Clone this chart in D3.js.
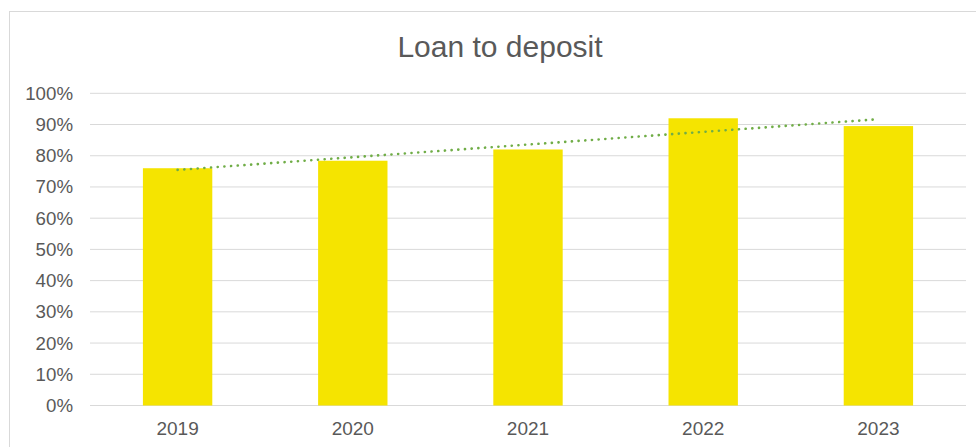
<!DOCTYPE html>
<html>
<head>
<meta charset="utf-8">
<script src="https://cdn.jsdelivr.net/npm/d3@7"></script>
<style>
  html, body { margin: 0; padding: 0; background: #fff; }
  svg { display: block; }
</style>
</head>
<body>
<div id="chart"></div>
<script>
const title = "Loan to deposit";
const categories = ["2019", "2020", "2021", "2022", "2023"];
const values = [0.76, 0.784, 0.82, 0.92, 0.895];
const yTicks = [0, 0.1, 0.2, 0.3, 0.4, 0.5, 0.6, 0.7, 0.8, 0.9, 1.0];

const W = 976, H = 447;
const margin = { left: 90, right: 10, top: 93.3, bottom: 41.5 };
const font = "'Liberation Sans', Arial, sans-serif";
const textColor = "#595959";

const svg = d3.select("#chart").append("svg").attr("width", W).attr("height", H);

// frame
svg.append("rect").attr("x", 9.5).attr("y", 11.5).attr("width", W + 10).attr("height", H + 10)
  .attr("fill", "#fff").attr("stroke", "#d9d9d9").attr("stroke-width", 1);

const x = d3.scaleBand().domain(categories).range([margin.left, W - margin.right]).paddingInner(0.604).paddingOuter(0.302);
const y = d3.scaleLinear().domain([0, 1]).range([H - margin.bottom, margin.top]);

// gridlines
svg.append("g").selectAll("line").data(yTicks).join("line")
  .attr("x1", margin.left).attr("x2", W - margin.right)
  .attr("y1", d => y(d)).attr("y2", d => y(d))
  .attr("stroke", "#d9d9d9").attr("stroke-width", 1);

// y axis labels
const yAxis = d3.axisLeft(y).tickValues(yTicks).tickFormat(d3.format(".0%")).tickSize(0).tickPadding(0);
const gy = svg.append("g").attr("transform", `translate(${73},0)`).call(yAxis);
gy.select(".domain").remove();
gy.selectAll("text").attr("fill", textColor).style("font-family", font).style("font-size", "18.7px");

// bars
svg.append("g").selectAll("rect").data(values).join("rect")
  .attr("x", (d, i) => x(categories[i]))
  .attr("width", x.bandwidth())
  .attr("y", d => y(d))
  .attr("height", d => y(0) - y(d))
  .attr("fill", "#F5E400");

// x axis labels
const xAxis = d3.axisBottom(x).tickSize(0).tickPadding(0);
const gx = svg.append("g").attr("transform", `translate(0,${y(0) + 16})`).call(xAxis);
gx.select(".domain").remove();
gx.selectAll("text").attr("fill", textColor).style("font-family", font).style("font-size", "19px");

// linear trendline (least squares over category index)
const n = values.length;
const xs = d3.range(n);
const mx = d3.mean(xs), my = d3.mean(values);
const slope = d3.sum(xs, (xi, i) => (xi - mx) * (values[i] - my)) / d3.sum(xs, xi => (xi - mx) ** 2);
const intercept = my - slope * mx;
const cx = i => x(categories[i]) + x.bandwidth() / 2;
svg.append("line")
  .attr("x1", cx(0)).attr("y1", y(intercept))
  .attr("x2", cx(n - 1)).attr("y2", y(intercept + slope * (n - 1)))
  .attr("stroke", "#70AD47").attr("stroke-width", 2.6)
  .attr("stroke-linecap", "round").attr("stroke-dasharray", "0.1 6.6");

// title
svg.append("text").attr("x", 500).attr("y", 57).attr("text-anchor", "middle")
  .attr("fill", textColor).style("font-family", font).style("font-size", "30px").text(title);
</script>
</body>
</html>
